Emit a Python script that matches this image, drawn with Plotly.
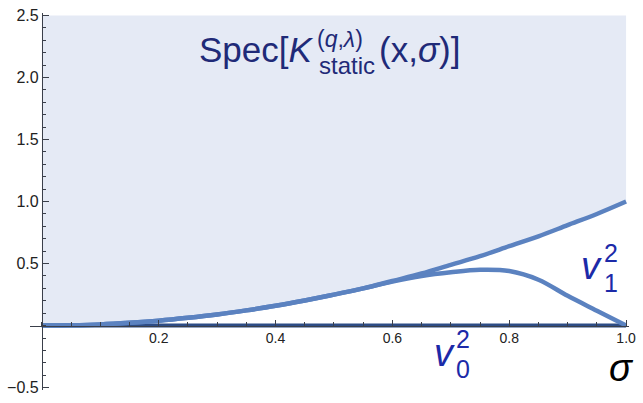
import plotly.graph_objects as go

# ---- data ----
sigma = [0.00, 0.05, 0.10, 0.15, 0.20, 0.25, 0.30, 0.35, 0.40, 0.45, 0.50,
         0.55, 0.60, 0.65, 0.70, 0.75, 0.80, 0.85, 0.90, 0.95, 1.00]
v1_sq = [0.000, 0.003, 0.010, 0.023, 0.040, 0.063, 0.090, 0.123, 0.160, 0.203, 0.250,
         0.300, 0.360, 0.420, 0.490, 0.560, 0.640, 0.720, 0.810, 0.900, 1.000]
v0_sq = [0.000, 0.003, 0.010, 0.023, 0.040, 0.063, 0.090, 0.123, 0.160, 0.203, 0.250,
         0.300, 0.355, 0.400, 0.430, 0.450, 0.440, 0.370, 0.240, 0.120, 0.000]
zero_x = [0.0, 1.0]
zero_y = [0.0, 0.0]
top_y = [2.5, 2.5]

x_tickvals = [0.2, 0.4, 0.6, 0.8, 1.0]
x_ticktext = ["0.2", "0.4", "0.6", "0.8", "1.0"]
y_tickvals = [-0.5, 0.5, 1.0, 1.5, 2.0, 2.5]
y_ticktext = ["\u22120.5", "0.5", "1.0", "1.5", "2.0", "2.5"]

# ---- style ----
W, H = 643, 403
ML, MR, MT, MB = 30, 7, 7, 10
XR = [-0.0203, 1.005]
YR = [-0.519, 2.52]
CURVE = "#5b82c0"
FILL = "#e5eaf5"
ZERO = "#2d4c85"
LABEL_BLUE = "#1c2aa8"
TITLE = "#1f2a78"
FONT = "Liberation Sans"

pw = W - ML - MR
ph = H - MT - MB


def px2x(px):
    return XR[0] + (px - ML) / pw * (XR[1] - XR[0])


def py2y(py):
    return YR[1] - (py - MT) / ph * (YR[1] - YR[0])


fig = go.Figure()

# shaded region above the upper branch
fig.add_trace(go.Scatter(x=zero_x, y=top_y, mode="lines", line=dict(width=0),
                         showlegend=False, hoverinfo="skip"))
fig.add_trace(go.Scatter(x=sigma, y=v1_sq, mode="lines", line=dict(width=0, shape="spline"),
                         fill="tonexty", fillcolor=FILL, showlegend=False, hoverinfo="skip"))

fig.add_trace(go.Scatter(x=zero_x, y=zero_y, mode="lines",
                         line=dict(color=ZERO, width=4), showlegend=False))
fig.add_trace(go.Scatter(x=sigma, y=v0_sq, mode="lines",
                         line=dict(color=CURVE, width=4.5, shape="spline"), showlegend=False))
fig.add_trace(go.Scatter(x=sigma, y=v1_sq, mode="lines",
                         line=dict(color=CURVE, width=4.5, shape="spline"), showlegend=False))

ann = []


def add(text, px, py, size, color, xanchor="center", yanchor="middle"):
    ann.append(dict(text=text, x=px2x(px), y=py2y(py), xref="x", yref="y",
                    showarrow=False, xanchor=xanchor, yanchor=yanchor,
                    font=dict(family=FONT, size=size, color=color)))


# title
add("Spec[<i>K</i>", 319, 44, 35, TITLE, xanchor="right")
add("(<i>q</i>,<i>\u03bb</i>)", 318, 34, 23, TITLE, xanchor="left")
add("static", 320, 61, 24, TITLE, xanchor="left")
add("(x,<i>\u03c3</i>)]", 381, 44, 35, TITLE, xanchor="left")

# v1^2
add("<i>v</i>", 598, 266, 38, LABEL_BLUE)
add("2", 618, 253, 25, LABEL_BLUE)
add("1", 618, 283, 25, LABEL_BLUE)
# v0^2
add("<i>v</i>", 449, 355, 38, LABEL_BLUE)
add("2", 468, 341, 25, LABEL_BLUE)
add("0", 468, 372, 25, LABEL_BLUE)
# sigma
add("<i>\u03c3</i>", 628, 370, 38, "#000000")

fig.update_layout(
    width=W, height=H,
    margin=dict(l=ML, r=MR, t=MT, b=MB, pad=0),
    paper_bgcolor="white", plot_bgcolor="white",
    showlegend=False,
    annotations=ann,
    xaxis=dict(range=XR, showgrid=False, zeroline=False,
               anchor="free", position=(0 - YR[0]) / (YR[1] - YR[0]),
               showline=True, linecolor="#3a3f4a", linewidth=1,
               tickmode="array", tickvals=x_tickvals, ticktext=x_ticktext,
               ticks="inside", ticklen=6, tickcolor="#3a3f4a", tickwidth=1,
               minor=dict(dtick=0.05, tick0=0, ticks="inside", ticklen=4,
                          tickcolor="#3a3f4a", showgrid=False),
               tickfont=dict(family=FONT, size=14, color="#222222")),
    yaxis=dict(range=YR, showgrid=False, zeroline=False,
               anchor="free", position=(0 - XR[0]) / (XR[1] - XR[0]),
               showline=True, linecolor="#3a3f4a", linewidth=1,
               tickmode="array", tickvals=y_tickvals, ticktext=y_ticktext,
               ticks="inside", ticklen=6, tickcolor="#3a3f4a", tickwidth=1,
               minor=dict(dtick=0.1, tick0=0, ticks="inside", ticklen=3.5,
                          tickcolor="#3a3f4a", showgrid=False),
               tickfont=dict(family=FONT, size=16, color="#222222")),
)

fig.write_html("out.html")
